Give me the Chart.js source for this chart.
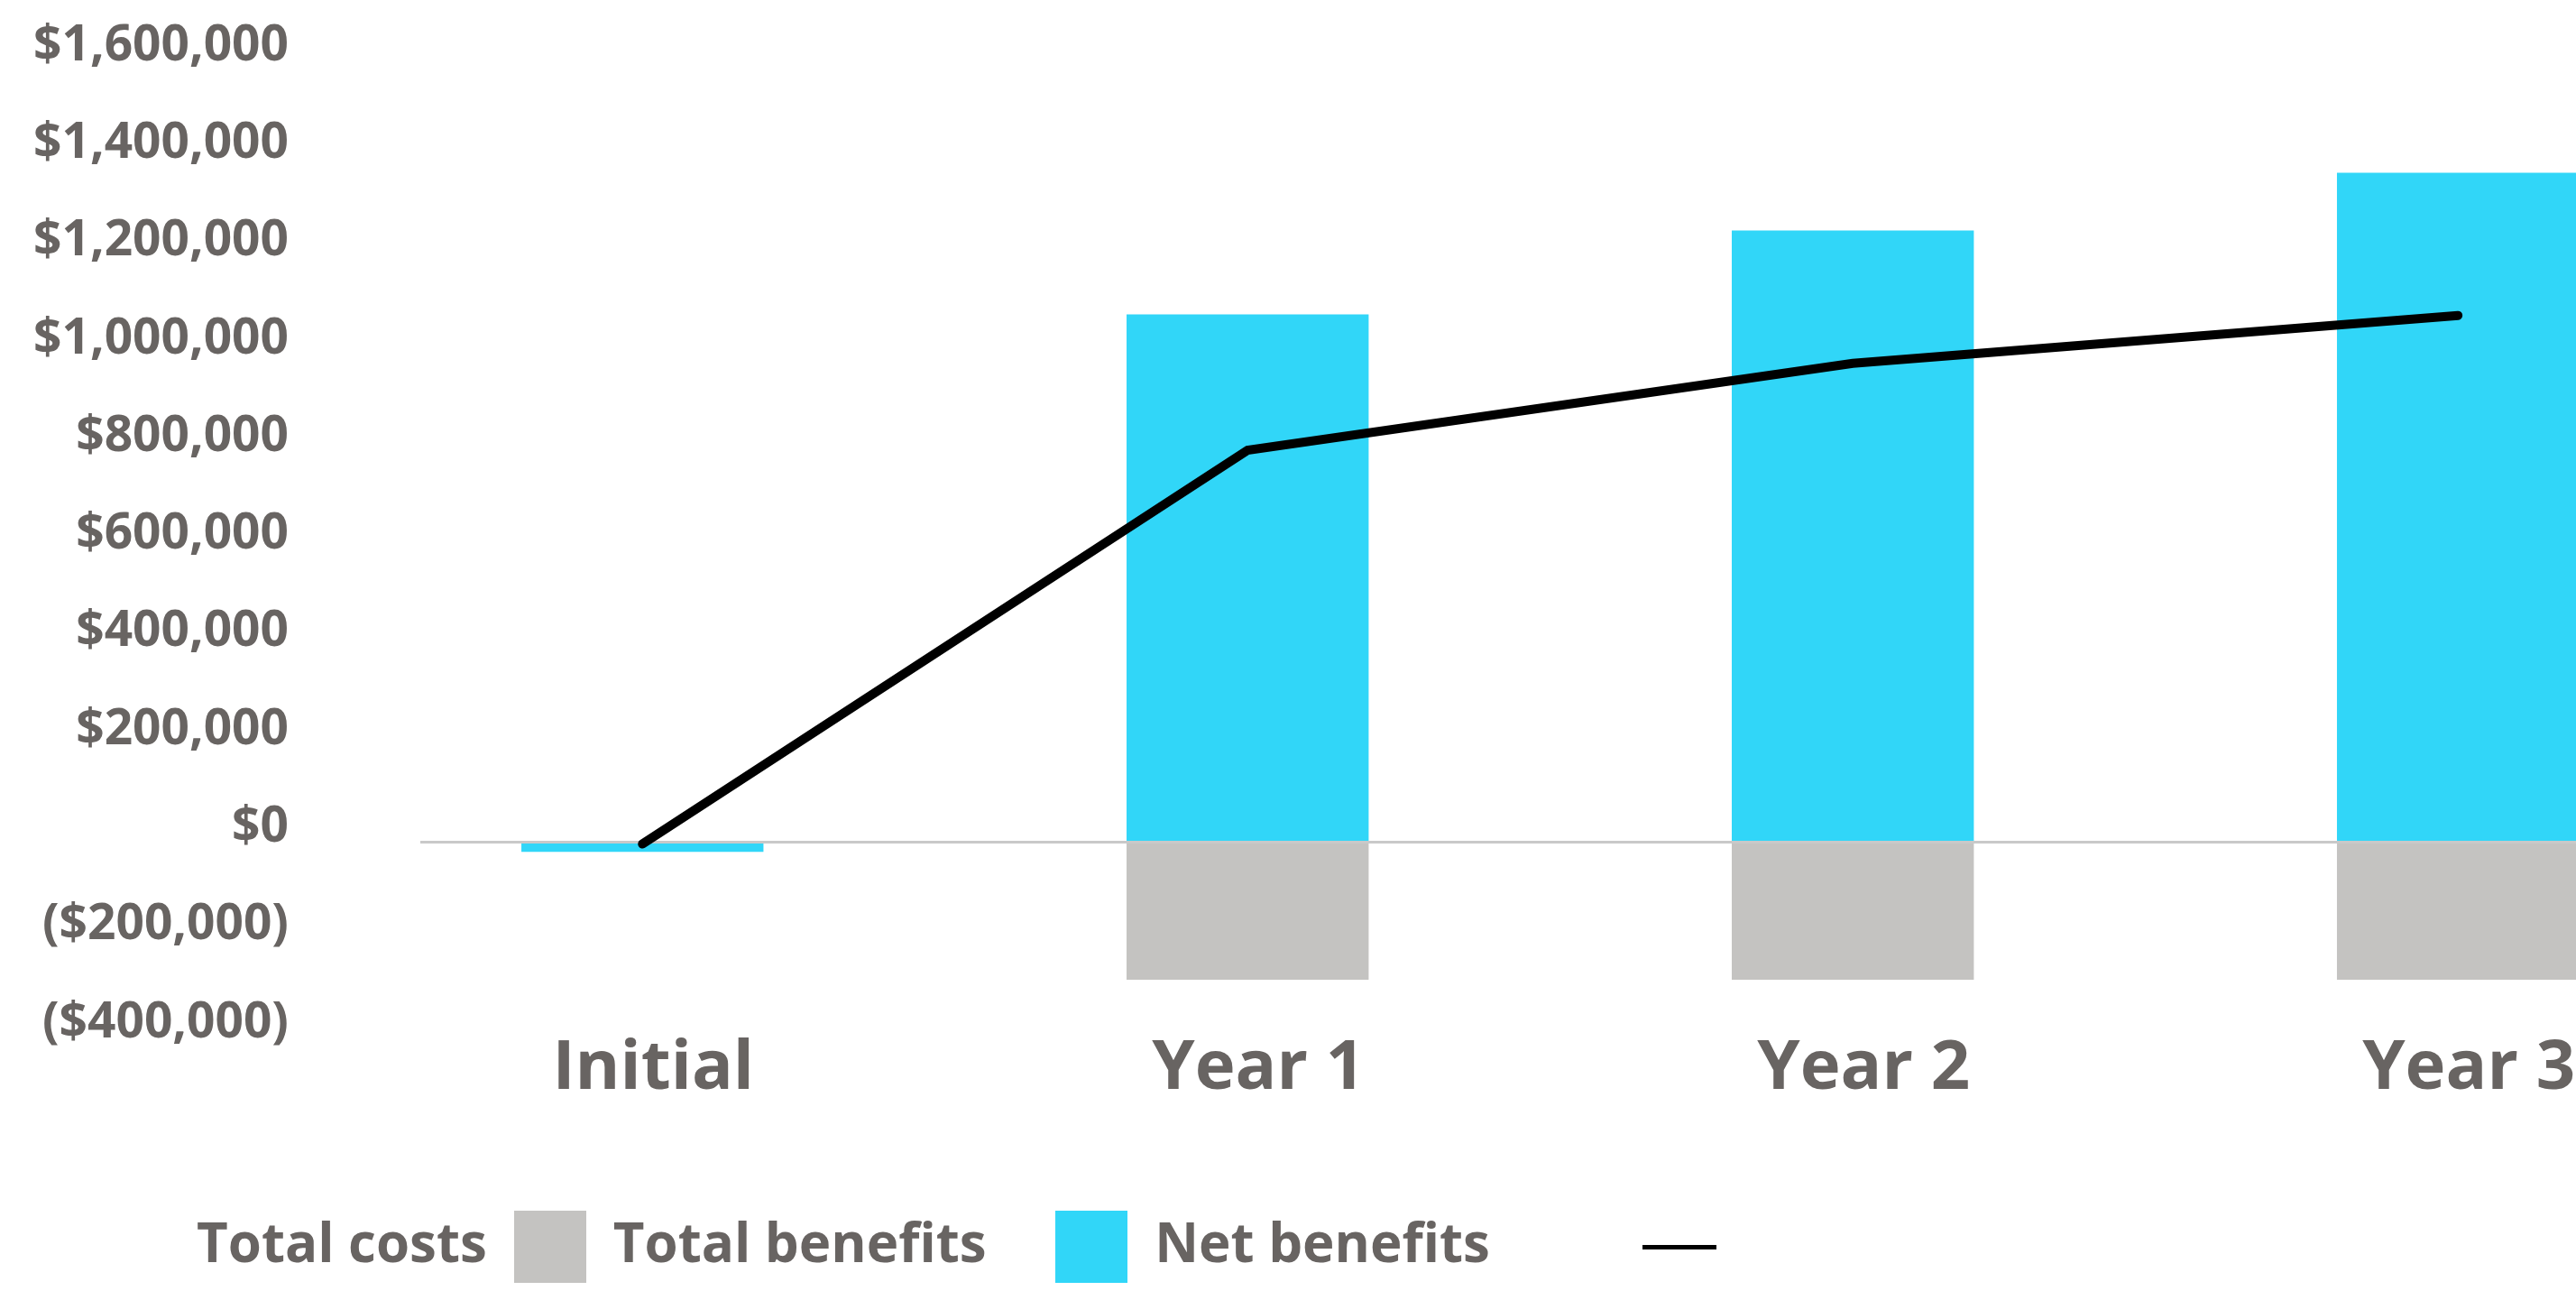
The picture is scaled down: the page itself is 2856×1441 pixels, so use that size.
<!DOCTYPE html>
<html lang="en">
<head>
  <meta charset="UTF-8" />
  <title>Costs and benefits</title>
  <script src="https://cdn.jsdelivr.net/npm/chart.js"></script>
  <style>
    html, body { margin: 0; padding: 0; background: #fff; overflow: hidden; }
    .wrap { position: relative; width: 2856px; height: 1441px; }
  </style>
</head>
<body>
  <div class="wrap"><canvas id="benefitsChart"></canvas></div>

  <script>
    // data
    const categories = ['Initial', 'Year 1', 'Year 2', 'Year 3'];
    const totalCosts = [0, -282000, -282000, -282000];
    const totalBenefits = [-20000, 1080000, 1252000, 1370000];
    const netBenefits = [-4000, 802000, 980000, 1078000];
    const yTicks = [-400000, -200000, 0, 200000, 400000, 600000, 800000, 1000000, 1200000, 1400000, 1600000];

    const textGray = '#686462';
    const fontFamily = '"Open Sans", "Noto Sans", sans-serif';

    const formatMoney = v => {
      const s = '$' + Math.abs(v).toLocaleString('en-US');
      return v < 0 ? '(' + s + ')' : s;
    };

    // legend swatches drawn as small canvases
    function swatch(w, h, color) {
      const c = document.createElement('canvas');
      c.width = w;
      c.height = h;
      const g = c.getContext('2d');
      g.fillStyle = color;
      g.fillRect(0, 0, w, h);
      return c;
    }
    const legendSwatches = [swatch(80, 80, '#c4c3c1'), swatch(80, 80, '#31d6f8'), swatch(82, 5, '#000000')];
    const legendGaps = [0, 3, 9];

    // the legend row starts near the left edge, not centred
    const legendLeft = 188;
    const legendShift = {
      id: 'legendShift',
      afterLayout(chart) {
        const lg = chart.legend;
        lg.width = lg.right - legendLeft;
        lg.left = legendLeft;
      }
    };

    const toPoints = arr => arr.map((v, i) => ({ x: i, y: v }));

    new Chart(document.getElementById('benefitsChart'), {
      type: 'bar',
      data: {
        datasets: [
          {
            label: 'Total costs',
            data: toPoints(totalCosts),
            backgroundColor: '#c4c3c1',
            stack: 'bars'
          },
          {
            label: 'Total benefits',
            data: toPoints(totalBenefits),
            backgroundColor: '#31d6f8',
            stack: 'bars'
          },
          {
            type: 'line',
            label: 'Net benefits',
            data: toPoints(netBenefits),
            borderColor: '#000000',
            backgroundColor: '#000000',
            borderWidth: 10,
            borderCapStyle: 'round',
            pointRadius: 0,
            tension: 0,
            stack: 'line',
            order: -1
          }
        ]
      },
      plugins: [legendShift],
      options: {
        responsive: true,
        maintainAspectRatio: false,
        animation: false,
        categoryPercentage: 1,
        barPercentage: 0.4,
        layout: { padding: { left: 0, right: 0, top: 67, bottom: 19 } },
        plugins: {
          tooltip: { enabled: false },
          legend: {
            position: 'bottom',
            align: 'end',
            rtl: true,
            textDirection: 'ltr',
            reverse: true,
            labels: {
              usePointStyle: true,
              pointStyleWidth: 80,
              padding: 30,
              color: textGray,
              font: { family: fontFamily, size: 60, weight: 'bold' },
              generateLabels: chart => chart.data.datasets.map((ds, i) => ({
                text: ds.label + ' '.repeat(legendGaps[i]),
                fillStyle: 'transparent',
                strokeStyle: 'transparent',
                lineWidth: 0,
                pointStyle: legendSwatches[i],
                fontColor: textGray,
                hidden: false,
                datasetIndex: i
              }))
            }
          }
        },
        scales: {
          x: {
            type: 'linear',
            offset: false,
            min: -0.367,
            max: 3.195,
            stacked: true,
            grid: { display: false },
            border: { display: false },
            afterBuildTicks: scale => { scale.ticks = categories.map((c, i) => ({ value: i })); },
            afterFit: scale => { scale.height = 172; },
            ticks: {
              padding: -18,
              labelOffset: 12,
              color: textGray,
              font: { family: fontFamily, size: 76, weight: 'bold' },
              callback: v => categories[v]
            }
          },
          y: {
            min: -400000,
            max: 1600000,
            stacked: true,
            border: { display: false },
            grid: {
              drawTicks: false,
              lineWidth: 3,
              color: ctx => ctx.tick && ctx.tick.value === 0 ? '#c9c9c9' : 'transparent'
            },
            afterBuildTicks: scale => { scale.ticks = yTicks.map(v => ({ value: v })); },
            afterFit: scale => {
              scale.width = 466;
              scale.paddingTop = 0;
              scale.paddingBottom = 0;
            },
            ticks: {
              padding: 146,
              labelOffset: -16,
              color: textGray,
              font: { family: fontFamily, size: 55, weight: 'bold' },
              callback: v => formatMoney(v)
            }
          }
        }
      }
    });
  </script>
</body>
</html>
